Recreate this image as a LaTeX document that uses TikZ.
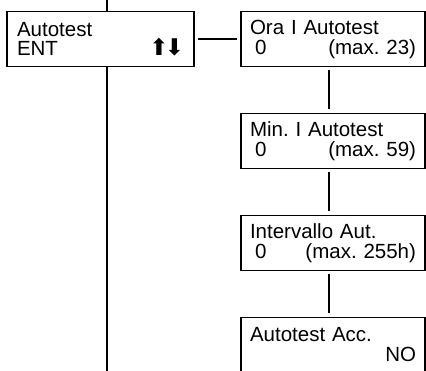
\documentclass[tikz,border=0pt]{standalone}
\usepackage{fontspec}
\setmainfont{Liberation Sans}
\newfontfamily\arrowfont{DejaVu Sans}
\usetikzlibrary{positioning}
\newcommand\gap{\hskip 0pt plus 1filll}
\tikzstyle{menu} = [rectangle, draw, line width=1.6pt, outer sep=0pt, align=left]
\tikzstyle{wire} = [line width=1.6pt]

\begin{document}
\frenchspacing
\begin{tikzpicture}[x=1pt, y=1pt,
    % box sizes and the text in them
    menu/.style = {rectangle, draw, line width=1.6pt, outer sep=0pt, align=left,
                   minimum height=55pt, font=\fontsize{20.5}{20}\selectfont},
    sub/.style  = {menu, minimum width=184pt, text width=166pt, inner xsep=9pt},
    wire/.style = {line width=1.6pt},
    link/.style = {wire, shorten <=4pt, shorten >=4pt}
]
    \path[use as bounding box, clip] (0,0) rectangle (426,-371);

    % 1. Main entry and the trunk line through it
    \node (main) [menu, minimum width=187pt, text width=167pt, inner xsep=10pt,
                  font=\fontsize{20.5}{18.5}\selectfont] at (100.5,-39)
        {Autotest\\ENT\gap{\arrowfont\fontsize{23}{18}\selectfont ⬆\kern-4pt⬇}\hspace*{8pt}};
    \coordinate (trunktop) at (107,0);
    \coordinate (trunkend) at (107,-371);
    \coordinate (spine) at (329,0);

    % 2. Sub menu column
    \node (ora)  [sub, right=47pt of main] {Ora I Autotest\\\hspace*{5pt}0\gap(max. 23)};
    \node (minb) [sub, below=47pt of ora]  {Min. I Autotest\\\hspace*{5pt}0\gap(max. 59)};
    \node (intb) [sub, below=47pt of minb] {Intervallo Aut.\\\hspace*{5pt}0\gap(max. 255h)};
    \node (acc)  [sub, below=47pt of intb] {Autotest Acc.\\\gap NO\hspace*{-4pt}};

    % 3. Connectors
    \draw [wire] (trunktop) -- (trunktop |- main.north);
    \draw [wire] (main.south -| trunkend) -- (trunkend);
    \draw [link] (main.east) -- (main.east -| ora.west);
    \draw [link] (ora.south -| spine)  -- (minb.north -| spine);
    \draw [link] (minb.south -| spine) -- (intb.north -| spine);
    \draw [link] (intb.south -| spine) -- (acc.north -| spine);

\end{tikzpicture}
\end{document}
